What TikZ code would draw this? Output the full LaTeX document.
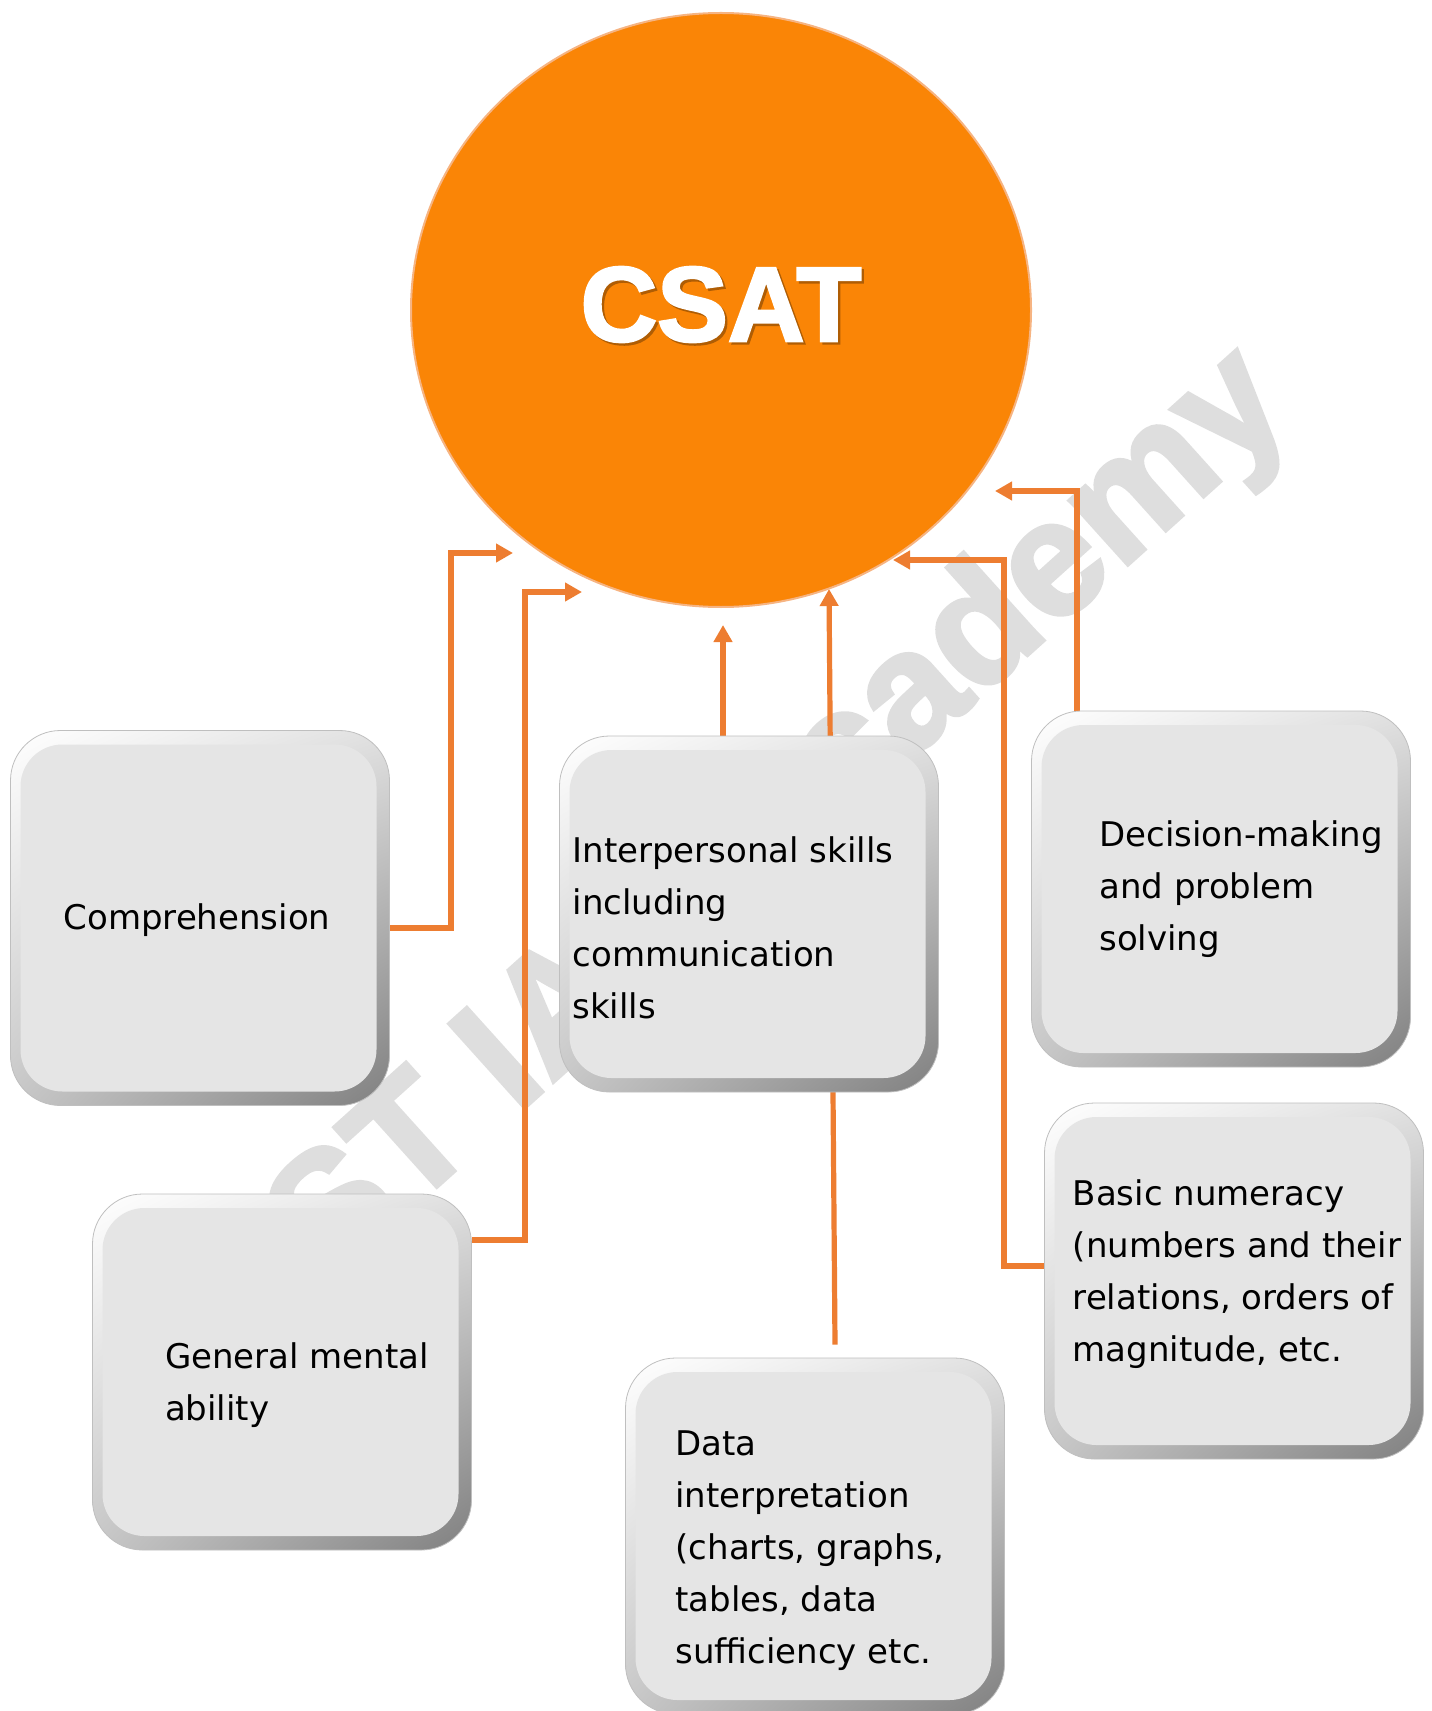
\documentclass[tikz,border=0pt]{standalone}
\usepackage{fontspec}
\usetikzlibrary{shapes.geometric,arrows.meta,shadings}
\newfontfamily\boxfont{DejaVu Sans}
\newfontfamily\headfont{Liberation Sans}[BoldFeatures={FakeBold=2.5}]
\definecolor{csatorange}{RGB}{250,133,6}
\definecolor{csatedge}{RGB}{246,180,130}
\definecolor{linkorange}{RGB}{237,125,49}
\definecolor{boxfill}{RGB}{229,229,229}
\definecolor{markgray}{RGB}{222,222,222}
\pgfdeclarelayer{background}
\pgfsetlayers{background,main}
\tikzset{
  skillbox/.style={rounded corners=25pt, minimum width=189.5pt,
    minimum height=178pt, inner sep=0pt, draw=black!25, line width=0.4pt,
    path picture={
      \shade[upper left=white, upper right=black!12, lower left=black!22,
        lower right=black!50] (path picture bounding box.south west)
        rectangle (path picture bounding box.north east);
      \fill[boxfill, rounded corners=21pt]
        ([shift={(5pt,7pt)}]path picture bounding box.south west) rectangle
        ([shift={(-6.5pt,-7pt)}]path picture bounding box.north east);
    }},
  skilltext/.style={inner sep=0pt, align=left,
    font=\boxfont\fontsize{17}{26}\selectfont},
  link/.style={draw=linkorange, line width=2.6pt,
    -{Triangle[width=9pt,length=8.5pt]}},
  wmark/.style={rotate=42, text=markgray, inner sep=0pt,
    font=\headfont\bfseries\fontsize{82}{90}\selectfont}
}

\begin{document}
\begin{tikzpicture}[x=0.5pt,y=-0.5pt]
  \useasboundingbox (0,0) rectangle (1431,1711);
  \node[ellipse, fill=csatorange, draw=csatedge, line width=1pt,
    minimum width=310pt, minimum height=297pt, inner sep=0pt, text=white,
    font=\headfont\bfseries\fontsize{53}{60}\selectfont] (csat) at (721,310)
    {\raisebox{6pt}{\rlap{\raisebox{-1.2pt}{\kern1.2pt\textcolor{csatorange!70!black}{CSAT}}}CSAT}};

  \node[skillbox, minimum height=187.5pt] (comp) at (200,918) {};
  \node[skillbox] (inter) at (749,914) {};
  \node[skillbox] (decis) at (1221,889) {};
  \node[skillbox] (gma) at (282,1372) {};
  \node[skillbox] (numer) at (1234,1281) {};
  \node[skillbox] (datai) at (815,1536) {};

  \node[skilltext] (comp-t) at ([shift={(-1.5pt,-1pt)}]comp) {Comprehension};
  \node[skilltext] (inter-t) at ([shift={(-8pt,-7pt)}]inter)
    {Interpersonal skills\\including\\communication\\skills};
  \node[skilltext] (decis-t) at ([shift={(10pt,0pt)}]decis)
    {Decision-making\\and problem\\solving};
  \node[skilltext] (gma-t) at ([shift={(7.5pt,-6.5pt)}]gma) {General mental\\ability};
  \node[skilltext] (numer-t) at ([shift={(1.5pt,3.5pt)}]numer)
    {Basic numeracy\\(numbers and their\\relations, orders of\\magnitude, etc.};
  \node[skilltext] (datai-t) at ([shift={(-2.5pt,-7.5pt)}]datai)
    {Data\\interpretation\\(charts, graphs,\\tables, data\\sufficiency etc.};

  \coordinate (t1) at (513,553);
  \coordinate (t2) at (582,592);
  \coordinate (t3) at (723,625);
  \coordinate (t4) at (829,589);
  \coordinate (t5) at (893,560);
  \coordinate (t6) at (995,491);

  \begin{pgfonlayer}{background}
    \node[wmark] (wm) at (783,818) {ST IAS Academy};
    \draw[link] ([yshift=-5pt]comp.east) -| ([xshift=-31pt]t1) -- (t1);
    \draw[link] ([yshift=66pt]gma.east) -| ([xshift=-28.5pt]t2) -- (t2);
    \draw[link] (inter.north -| t3) -- (t3);
    \draw[link] ([xshift=10pt,yshift=6.5pt]datai.north) -- (t4);
    \draw[link] ([yshift=7.5pt]numer.west) -| ([xshift=55.5pt]t5) -- (t5);
    \draw[link] ([xshift=-72pt]decis.north) |- (t6);
  \end{pgfonlayer}
\end{tikzpicture}
\end{document}
